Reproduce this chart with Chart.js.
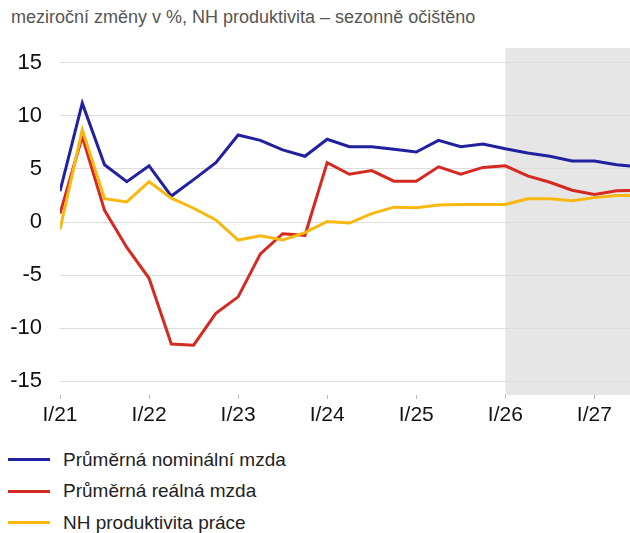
<!DOCTYPE html>
<html>
<head>
<meta charset="utf-8">
<script src="https://cdn.jsdelivr.net/npm/chart.js@4"></script>
<style>
  body { margin: 0; background: #fff; font-family: "Liberation Sans", Arial, sans-serif; }
  #wrap { position: relative; width: 630px; height: 533px; overflow: hidden; }
  #title { position: absolute; left: 11px; top: 7px; font-size: 18px; color: #555; white-space: nowrap; }
  #chartBox { position: absolute; left: 0; top: 0; width: 630px; height: 440px; }
  #legend { position: absolute; left: 8px; top: 444px; }
  .item { height: 31.5px; display: flex; align-items: center; font-size: 19px; color: #222; }
  .swatch { width: 42px; height: 3px; margin-right: 13px; }
</style>
</head>
<body>
<div id="wrap">
  <div id="title">meziroční změny v %, NH produktivita – sezonně očištěno</div>
  <div id="chartBox"><canvas id="lineChart" width="630" height="440"></canvas></div>
  <div id="legend"></div>
</div>
<script>
// quarters I/21 ... III/27
const quarters = ['I/21','II/21','III/21','IV/21','I/22','II/22','III/22','IV/22',
  'I/23','II/23','III/23','IV/23','I/24','II/24','III/24','IV/24',
  'I/25','II/25','III/25','IV/25','I/26','II/26','III/26','IV/26',
  'I/27','II/27','III/27'];

const nominal = [2.9, 11.2, 5.4, 3.8, 5.3, 2.45, 4.0, 5.6, 8.2, 7.7, 6.8, 6.2,
  7.8, 7.1, 7.1, 6.85, 6.6, 7.7, 7.1, 7.35, 6.9, 6.5, 6.2, 5.75, 5.75, 5.4, 5.2];
const real = [0.8, 8.05, 1.1, -2.4, -5.3, -11.5, -11.6, -8.6, -7.05, -3.0, -1.1, -1.25,
  5.6, 4.5, 4.85, 3.85, 3.85, 5.2, 4.5, 5.15, 5.3, 4.35, 3.75, 3.0, 2.6, 2.95, 3.0];
const productivity = [-0.7, 8.7, 2.2, 1.9, 3.8, 2.25, 1.3, 0.2, -1.7, -1.3, -1.7, -1.0,
  0.05, -0.1, 0.8, 1.4, 1.35, 1.6, 1.65, 1.65, 1.65, 2.2, 2.2, 2.0, 2.3, 2.5, 2.5];

const yTicks = [-15, -10, -5, 0, 5, 10, 15];
const forecastStart = 'I/26';

const seriesNames = ['Průměrná nominální mzda', 'Průměrná reálná mzda', 'NH produktivita práce'];
const seriesColors = ['#2121a0', '#d42a22', '#f8b810'];

function toPoints(values) {
  return values.map((v, i) => ({ x: i, y: v }));
}

const forecastShade = {
  id: 'forecastShade',
  beforeDraw(chart) {
    const { ctx, chartArea, scales } = chart;
    const x0 = scales.x.getPixelForValue(quarters.indexOf(forecastStart));
    ctx.save();
    ctx.fillStyle = '#e6e6e6';
    ctx.fillRect(x0, chartArea.top, chartArea.right - x0, chartArea.bottom - chartArea.top);
    ctx.restore();
  }
};

const ctx = document.getElementById('lineChart').getContext('2d');
new Chart(ctx, {
  type: 'line',
  data: {
    datasets: [nominal, real, productivity].map((vals, k) => ({
      label: seriesNames[k],
      data: toPoints(vals),
      borderColor: seriesColors[k],
      borderWidth: 3,
      pointRadius: 0,
      tension: 0,
      fill: false
    })).reverse()
  },
  options: {
    responsive: false,
    animation: false,
    layout: { padding: { top: 48, right: 0, left: 0, bottom: 0 } },
    plugins: { legend: { display: false }, tooltip: { enabled: false } },
    scales: {
      x: {
        type: 'linear',
        min: 0,
        max: 25.6,
        afterBuildTicks(scale) {
          scale.ticks = quarters.map((q, i) => ({ value: i })).filter(t => t.value % 4 === 0);
        },
        afterFit(scale) { scale.height = 45; },
        border: { display: false },
        grid: { drawOnChartArea: false, drawTicks: true, tickLength: 4, tickColor: '#bbbbbb' },
        ticks: {
          padding: 4,
          maxRotation: 0,
          autoSkip: false,
          color: '#111',
          font: { family: 'Liberation Sans', size: 21 },
          callback: v => quarters[v]
        }
      },
      y: {
        min: -16.3,
        max: 16.4,
        afterBuildTicks(scale) {
          scale.ticks = yTicks.map(v => ({ value: v }));
        },
        afterFit(scale) { scale.width = 60; },
        border: { display: false },
        grid: { color: '#dddddd', lineWidth: 1, drawTicks: false },
        ticks: {
          padding: 18,
          color: '#111',
          font: { family: 'Liberation Sans', size: 22 }
        }
      }
    }
  },
  plugins: [forecastShade]
});

// legend
const legend = document.getElementById('legend');
seriesNames.forEach((name, k) => {
  const row = document.createElement('div');
  row.className = 'item';
  row.innerHTML = '<span class="swatch" style="background:' + seriesColors[k] + '"></span><span>' + name + '</span>';
  legend.appendChild(row);
});
</script>
</body>
</html>
